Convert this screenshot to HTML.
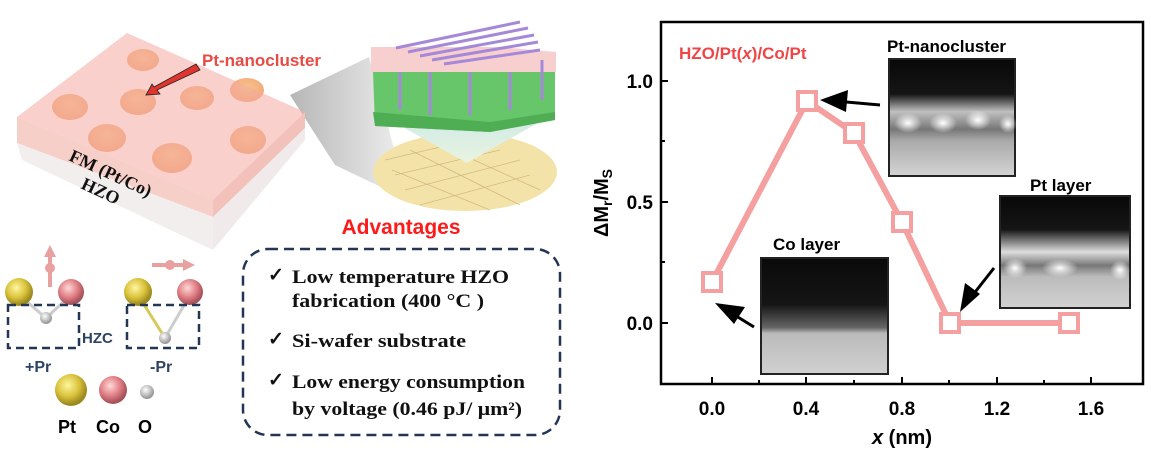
<!DOCTYPE html><html><head><style>body{margin:0;background:#fff}svg{display:block}</style></head><body>
<svg width="1151" height="459" viewBox="0 0 1151 459" xmlns="http://www.w3.org/2000/svg" font-family="Liberation Sans, sans-serif">
<defs>
<radialGradient id="au" cx="0.4" cy="0.35" r="0.6"><stop offset="0" stop-color="#fff6a0"/><stop offset="0.6" stop-color="#d9c23a"/><stop offset="1" stop-color="#9c8a20"/></radialGradient>
<radialGradient id="co" cx="0.4" cy="0.35" r="0.6"><stop offset="0" stop-color="#ffd8d8"/><stop offset="0.6" stop-color="#e07f85"/><stop offset="1" stop-color="#a8525a"/></radialGradient>
<radialGradient id="ox" cx="0.4" cy="0.35" r="0.6"><stop offset="0" stop-color="#fff"/><stop offset="1" stop-color="#999"/></radialGradient>
<radialGradient id="dot" cx="0.5" cy="0.4" r="0.6"><stop offset="0" stop-color="#f8c38a"/><stop offset="1" stop-color="#f0a878"/></radialGradient>
<radialGradient id="spot" cx="0.5" cy="0.5" r="0.5"><stop offset="0" stop-color="#fff"/><stop offset="1" stop-color="#fff" stop-opacity="0"/></radialGradient>
<linearGradient id="cone" x1="0" y1="0" x2="0" y2="1"><stop offset="0" stop-color="#cfe9e6"/><stop offset="1" stop-color="#e8f4e0"/></linearGradient>
<linearGradient id="beam" x1="0" y1="0" x2="1" y2="0"><stop offset="0" stop-color="#aaa"/><stop offset="1" stop-color="#eee"/></linearGradient>
<linearGradient id="img1" x1="0" y1="0" x2="0" y2="1"><stop offset="0" stop-color="#080808"/><stop offset="0.3" stop-color="#151515"/><stop offset="0.45" stop-color="#c0c0c0"/><stop offset="0.6" stop-color="#777"/><stop offset="0.7" stop-color="#aaa"/><stop offset="1" stop-color="#d4d4d4"/></linearGradient>
<linearGradient id="img2" x1="0" y1="0" x2="0" y2="1"><stop offset="0" stop-color="#0a0a0a"/><stop offset="0.4" stop-color="#151515"/><stop offset="0.6" stop-color="#666"/><stop offset="0.65" stop-color="#bbb"/><stop offset="1" stop-color="#d0d0d0"/></linearGradient>
<linearGradient id="img3" x1="0" y1="0" x2="0" y2="1"><stop offset="0" stop-color="#080808"/><stop offset="0.3" stop-color="#151515"/><stop offset="0.5" stop-color="#ddd"/><stop offset="0.62" stop-color="#777"/><stop offset="0.72" stop-color="#bbb"/><stop offset="1" stop-color="#d2d2d2"/></linearGradient>
</defs>
<!-- beam -->
<polygon points="290,95 369,57 408,200 335,165" fill="url(#beam)" opacity="0.85"/>
<!-- block -->
<polygon points="17,117 17,143 213,217 213,200" fill="#f6cfc8"/>
<polygon points="17,143 22,160 213,250 213,217" fill="#f3eeee"/>
<polygon points="213,200 305,112 305,128 213,217" fill="#f2c2ba"/>
<polygon points="213,217 305,128 305,140 213,250" fill="#f0eaea"/>
<g fill="url(#dot)">
<ellipse cx="143" cy="60" rx="16" ry="11"/><ellipse cx="70" cy="107" rx="18" ry="13"/><ellipse cx="138" cy="102" rx="18" ry="13"/><ellipse cx="197" cy="98" rx="17" ry="12"/><ellipse cx="247" cy="90" rx="17" ry="12"/><ellipse cx="107" cy="138" rx="19" ry="14"/><ellipse cx="172" cy="158" rx="20" ry="15"/><ellipse cx="248" cy="140" rx="18" ry="14"/>
</g>
<polygon points="17,117 127,33 305,112 213,200" fill="#f4aaa0" opacity="0.55"/>
<polygon points="196,64 200,70 157,90 160,94 146,95 152,84 154,87" fill="#e0342f" stroke="#222" stroke-width="0.8"/>
<text x="202" y="66" font-size="17" font-weight="bold" fill="#e84a44">Pt-nanocluster</text>
<g font-family="Liberation Serif, serif" font-weight="bold" font-size="18" fill="#111">
<text transform="translate(68,160) rotate(25)">FM (Pt/Co)</text>
<text transform="translate(80,188) rotate(25)">HZO</text>
</g>
<!-- device -->
<ellipse cx="465" cy="172" rx="92" ry="39" fill="#f4e3a8"/>
<g stroke="#c9b074" stroke-width="0.8" fill="none" opacity="0.8">
<path d="M395,175 L500,150 M405,190 L520,160 M420,205 L530,175 M385,160 L470,140 M410,150 L520,205 M430,140 L540,190 M392,170 L490,210"/>
</g>
<polygon points="390,120 552,115 467,163" fill="url(#cone)"/>
<polygon points="373,72 555,72 555,120 490,132 375,126" fill="#68c66a"/>
<polygon points="373,112 490,122 555,112 555,120 490,132 375,126" fill="#4fae54"/>
<polygon points="371,47 500,47 556,52 556,72 371,72" fill="#f7cfcf"/>
<g stroke="#a688d8" stroke-width="3">
<line x1="396" y1="48" x2="520" y2="22"/><line x1="408" y1="52" x2="528" y2="28"/><line x1="420" y1="56" x2="534" y2="35"/><line x1="432" y1="60" x2="538" y2="42"/><line x1="444" y1="64" x2="540" y2="50"/>
<line x1="400" y1="72" x2="400" y2="110"/><line x1="430" y1="72" x2="430" y2="115"/><line x1="470" y1="72" x2="470" y2="115"/><line x1="510" y1="72" x2="510" y2="110"/><line x1="542" y1="60" x2="542" y2="100"/>
</g>
<!-- molecules -->
<line x1="50" y1="287" x2="50" y2="255" stroke="#e8a0a0" stroke-width="4"/><polygon points="44,257 56,257 50,245" fill="#e8a0a0"/><circle cx="50" cy="268" r="5" fill="#e8a0a0"/>
<line x1="152" y1="265" x2="185" y2="265" stroke="#e8a0a0" stroke-width="4"/><polygon points="183,259 183,271 195,265" fill="#e8a0a0"/><circle cx="170" cy="265" r="5" fill="#e8a0a0"/>
<line x1="19" y1="295" x2="46" y2="318" stroke="#ccc" stroke-width="3"/><line x1="71" y1="295" x2="46" y2="318" stroke="#ccc" stroke-width="3"/>
<line x1="138" y1="295" x2="165" y2="338" stroke="#d8c85a" stroke-width="3"/><line x1="190" y1="295" x2="165" y2="338" stroke="#ccc" stroke-width="3"/>
<circle cx="19" cy="292" r="14" fill="url(#au)"/><circle cx="71" cy="292" r="13" fill="url(#co)"/><circle cx="46" cy="318" r="6" fill="url(#ox)"/>
<circle cx="138" cy="292" r="14" fill="url(#au)"/><circle cx="190" cy="292" r="13" fill="url(#co)"/><circle cx="165" cy="338" r="6" fill="url(#ox)"/>
<rect x="8" y="305" width="71" height="43" fill="none" stroke="#233655" stroke-width="2.5" stroke-dasharray="8,5"/>
<rect x="127" y="305" width="72" height="43" fill="none" stroke="#233655" stroke-width="2.5" stroke-dasharray="8,5"/>
<g font-weight="bold" fill="#2e4363" font-size="15"><text x="82" y="343">HZC</text><text x="25" y="372" font-size="16">+Pr</text><text x="150" y="372" font-size="16">-Pr</text></g>
<circle cx="71" cy="390" r="16" fill="url(#au)"/><circle cx="113" cy="390" r="14" fill="url(#co)"/><circle cx="147" cy="392" r="7" fill="url(#ox)"/>
<g font-weight="bold" font-size="18" fill="#000"><text x="58" y="433">Pt</text><text x="96" y="433">Co</text><text x="138" y="433">O</text></g>
<!-- advantages -->
<text x="401" y="234" font-size="21" font-weight="bold" fill="#ff1a1a" text-anchor="middle">Advantages</text>
<rect x="243" y="249" width="317" height="186" rx="25" fill="none" stroke="#233655" stroke-width="2.5" stroke-dasharray="10,6"/>
<g font-family="Liberation Serif, serif" font-weight="bold" font-size="19" fill="#111">
<text x="268" y="281">✓</text><text x="292" y="283" textLength="217" lengthAdjust="spacingAndGlyphs">Low temperature HZO</text>
<text x="292" y="307" textLength="192" lengthAdjust="spacingAndGlyphs">fabrication (400 °C )</text>
<text x="268" y="345">✓</text><text x="292" y="347" textLength="174" lengthAdjust="spacingAndGlyphs">Si-wafer substrate</text>
<text x="268" y="386">✓</text><text x="292" y="388" textLength="233" lengthAdjust="spacingAndGlyphs">Low energy consumption</text>
<text x="292" y="415" textLength="230" lengthAdjust="spacingAndGlyphs">by voltage (0.46 pJ/ μm²)</text>
</g>
<!-- chart -->
<rect x="661" y="22" width="482" height="362" fill="none" stroke="#000" stroke-width="2.5"/>
<g stroke="#000" stroke-width="2">
<line x1="661" y1="81" x2="668" y2="81"/><line x1="661" y1="141" x2="665" y2="141"/><line x1="661" y1="202" x2="668" y2="202"/><line x1="661" y1="262" x2="665" y2="262"/><line x1="661" y1="323" x2="668" y2="323"/>
<line x1="712" y1="384" x2="712" y2="377"/><line x1="759" y1="384" x2="759" y2="380"/><line x1="806" y1="384" x2="806" y2="377"/><line x1="854" y1="384" x2="854" y2="380"/><line x1="902" y1="384" x2="902" y2="377"/><line x1="949" y1="384" x2="949" y2="380"/><line x1="997" y1="384" x2="997" y2="377"/><line x1="1044" y1="384" x2="1044" y2="380"/><line x1="1091" y1="384" x2="1091" y2="377"/>
</g>
<g font-size="19" font-weight="bold" fill="#000">
<text x="653" y="88" text-anchor="end">1.0</text><text x="653" y="209" text-anchor="end">0.5</text><text x="653" y="330" text-anchor="end">0.0</text>
<g text-anchor="middle"><text x="712" y="415">0.0</text><text x="806" y="415">0.4</text><text x="902" y="415">0.8</text><text x="997" y="415">1.2</text><text x="1091" y="415">1.6</text></g>
<text x="902" y="444" text-anchor="middle" font-size="20"><tspan font-style="italic">x</tspan> (nm)</text>
<text transform="translate(608,203) rotate(-90)" text-anchor="middle" font-size="20">ΔM<tspan font-size="14" dy="4">r</tspan><tspan dy="-4">/M</tspan><tspan font-size="14" dy="4">S</tspan></text>
</g>
<text x="679" y="59" font-size="17" font-weight="bold" fill="#f04545">HZO/Pt(<tspan font-style="italic">x</tspan>)/Co/Pt</text>
<polyline points="712,282 807,101 854,133 902,222 950,323 1069,323" fill="none" stroke="#f4a0a0" stroke-width="6"/>
<g fill="#fff" stroke="#f4a0a0" stroke-width="4">
<rect x="703" y="273" width="18" height="18"/><rect x="798" y="92" width="18" height="18"/><rect x="845" y="124" width="18" height="18"/><rect x="893" y="213" width="18" height="18"/><rect x="941" y="314" width="18" height="18"/><rect x="1060" y="314" width="18" height="18"/>
</g>
<!-- insets -->
<rect x="889" y="59" width="126" height="117" fill="url(#img1)" stroke="#222" stroke-width="2"/>
<g fill="url(#spot)"><ellipse cx="908" cy="123" rx="14" ry="10"/><ellipse cx="943" cy="123" rx="14" ry="10"/><ellipse cx="978" cy="120" rx="13" ry="10"/><ellipse cx="1008" cy="124" rx="9" ry="9"/></g>
<rect x="761" y="258" width="127" height="116" fill="url(#img2)" stroke="#222" stroke-width="2"/>
<rect x="1000" y="196" width="130" height="112" fill="url(#img3)" stroke="#222" stroke-width="2"/>
<g fill="url(#spot)"><ellipse cx="1015" cy="268" rx="12" ry="10"/><ellipse cx="1060" cy="268" rx="18" ry="9"/><ellipse cx="1120" cy="270" rx="10" ry="10"/></g>
<g font-size="17" font-weight="bold" fill="#000"><text x="887" y="52">Pt-nanocluster</text><text x="773" y="250">Co layer</text><text x="1030" y="191">Pt layer</text></g>
<g fill="#000" stroke="#000" stroke-width="3">
<line x1="880" y1="105" x2="835" y2="101"/><polygon points="820,100 848,90 846,112" stroke="none"/>
<line x1="754" y1="327" x2="728" y2="311"/><polygon points="715,303 745,307 734,324" stroke="none"/>
<line x1="994" y1="268" x2="972" y2="296"/><polygon points="960,312 965,283 980,294" stroke="none"/>
</g>
</svg>
</body></html>
